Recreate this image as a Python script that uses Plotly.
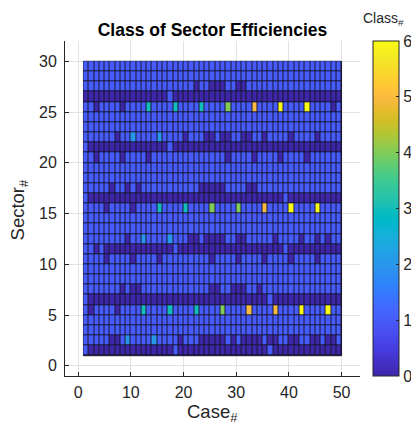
import plotly.graph_objects as go

# ---- data (rows listed from Sector 29 at top down to Sector 1), columns = Case 1..49
case_edges = list(range(1, 51))
sector_edges = list(range(1, 31))
x_ticks = [0, 10, 20, 30, 40, 50]
y_ticks = [0, 5, 10, 15, 20, 25, 30]
class_ticks = [0, 1, 2, 3, 4, 5, 6]

rows_top_down = [
    "1111111111 1111111111 1111111111 1111111111 111111111",  # 29
    "1111111111 1111111111 1111111111 1111111111 111111111",  # 28
    "1111111111 1111111111 1011000110 0111111111 111111111",  # 27
    "0000000000 0000001000 0000000000 0000000000 000000000",  # 26
    "1101111011 1131111311 1131111411 1151111611 116111101",  # 25
    "1111111111 1111111111 1111111111 1111111111 111111111",  # 24
    "1111111111 1111111111 1111111111 1111111111 111111111",  # 23
    "1111110112 1111211110 1110010011 0011011110 111101111",  # 22
    "1000000000 0000001000 0000000000 0000000000 000000000",  # 21
    "1101111011 1101111111 1111111011 1101111011 110111111",  # 20
    "1111111111 1111111111 1111111111 1111111111 111111111",  # 19
    "1111111111 1111111111 1111111111 1111111111 111111111",  # 18
    "1111101101 0111111111 1100000111 1001111111 111111111",  # 17
    "1000000000 0000000000 0000000000 0000000010 000000000",  # 16
    "1111011110 1111311113 1111411114 1111511116 111161111",  # 15
    "1111111111 1111111111 1111111111 1111111111 111111111",  # 14
    "1111111111 1111111111 1111111111 1111111111 111111111",  # 13
    "1111111101 1211112111 0010000110 0111110111 101101011",  # 12
    "1101000000 0000000100 0000000000 0000000010 000000000",  # 11
    "1111011110 1111011111 1111011110 1111011110 111101111",  # 10
    "1111111111 1111111111 1111111111 1111111111 111111111",  # 9
    "1111111111 1111111111 1111111111 1111111111 111111111",  # 8
    "1111111010 0111111111 1111001100 0110111111 111111111",  # 7
    "1000000000 0000000000 0000000000 0000010000 000000000",  # 6
    "1011110111 1311113111 1311114111 1511115111 161111611",  # 5
    "1111111111 1111111111 1111111111 1111111111 111111111",  # 4
    "1111111111 1111111111 1111111111 1111111111 111111111",  # 3
    "1111100121 1112111101 1100000101 0000100110 011001001",  # 2
    "1000000000 0000000100 0000000000 0000010000 000000000",  # 1
]

z = [[int(c) for c in r.replace(" ", "")] for r in reversed(rows_top_down)]

parula = [
    (0.2422, 0.1504, 0.6603), (0.2504, 0.1650, 0.7076), (0.2578, 0.1818, 0.7511), (0.2647, 0.1978, 0.7952),
    (0.2706, 0.2147, 0.8364), (0.2751, 0.2342, 0.8710), (0.2783, 0.2559, 0.8991), (0.2803, 0.2782, 0.9221),
    (0.2813, 0.3006, 0.9414), (0.2810, 0.3228, 0.9579), (0.2795, 0.3447, 0.9717), (0.2760, 0.3667, 0.9829),
    (0.2699, 0.3892, 0.9906), (0.2602, 0.4123, 0.9952), (0.2440, 0.4358, 0.9988), (0.2206, 0.4603, 0.9973),
    (0.1963, 0.4847, 0.9892), (0.1834, 0.5074, 0.9798), (0.1786, 0.5289, 0.9682), (0.1764, 0.5499, 0.9520),
    (0.1687, 0.5703, 0.9359), (0.1540, 0.5902, 0.9218), (0.1460, 0.6091, 0.9079), (0.1380, 0.6276, 0.8973),
    (0.1248, 0.6459, 0.8883), (0.1113, 0.6635, 0.8763), (0.0952, 0.6798, 0.8598), (0.0689, 0.6948, 0.8394),
    (0.0297, 0.7082, 0.8163), (0.0036, 0.7203, 0.7917), (0.0067, 0.7312, 0.7660), (0.0433, 0.7411, 0.7394),
    (0.0964, 0.7500, 0.7120), (0.1408, 0.7584, 0.6842), (0.1717, 0.7670, 0.6554), (0.1938, 0.7758, 0.6251),
    (0.2161, 0.7843, 0.5923), (0.2470, 0.7918, 0.5567), (0.2906, 0.7973, 0.5188), (0.3406, 0.8008, 0.4789),
    (0.3909, 0.8029, 0.4354), (0.4456, 0.8024, 0.3909), (0.5044, 0.7993, 0.3480), (0.5616, 0.7942, 0.3045),
    (0.6174, 0.7876, 0.2612), (0.6720, 0.7793, 0.2227), (0.7242, 0.7698, 0.1910), (0.7738, 0.7598, 0.1646),
    (0.8203, 0.7498, 0.1535), (0.8634, 0.7406, 0.1596), (0.9035, 0.7330, 0.1774), (0.9393, 0.7288, 0.2100),
    (0.9728, 0.7298, 0.2394), (0.9956, 0.7434, 0.2371), (0.9970, 0.7659, 0.2199), (0.9952, 0.7893, 0.2028),
    (0.9892, 0.8136, 0.1885), (0.9786, 0.8386, 0.1766), (0.9676, 0.8639, 0.1643), (0.9610, 0.8890, 0.1537),
    (0.9597, 0.9135, 0.1423), (0.9628, 0.9373, 0.1265), (0.9691, 0.9606, 0.1064), (0.9769, 0.9839, 0.0805),
]
n = len(parula)
colorscale = [[i / (n - 1), "rgb(%d,%d,%d)" % tuple(round(v * 255) for v in c)] for i, c in enumerate(parula)]

FONT = "Arial, 'Liberation Sans', Helvetica, sans-serif"
TXT = "#262626"

fig = go.Figure()
fig.add_trace(go.Heatmap(
    x=case_edges, y=sector_edges, z=z,
    zmin=0, zmax=6, colorscale=colorscale,
    xgap=1, ygap=1,
    colorbar=dict(
        x=1.045, xanchor="left", xpad=0, ypad=0,
        y=0.5, yanchor="middle", len=1, lenmode="fraction",
        thickness=26, thicknessmode="pixels",
        outlinewidth=1, outlinecolor=TXT,
        tickvals=class_ticks, ticks="inside", ticklen=3, tickcolor=TXT,
        tickfont=dict(family=FONT, size=16, color=TXT),
    ),
    hoverinfo="skip",
))

# dark cell edges (visible through the gaps)
fig.add_shape(type="rect", x0=case_edges[0], x1=case_edges[-1], y0=sector_edges[0], y1=sector_edges[-1],
              xref="x", yref="y", layer="between",
              fillcolor="rgb(22,22,48)", line=dict(color="rgb(22,22,48)", width=1))

axis_common = dict(
    showline=True, linecolor=TXT, linewidth=1, mirror=False,
    ticks="inside", ticklen=4, tickcolor=TXT,
    showgrid=True, gridcolor="#e3e3e3", gridwidth=1, zeroline=False,
    tickfont=dict(family=FONT, size=16, color=TXT),
)
fig.update_xaxes(range=[-2.5, 53.5], tickvals=x_ticks, ticklabelstandoff=2, **axis_common)
fig.update_yaxes(range=[-1, 32], tickvals=y_ticks, ticklabelstandoff=4, **axis_common)

fig.update_layout(
    width=411, height=429,
    margin=dict(l=65, r=50.5, t=40.5, b=53, pad=0, autoexpand=False),
    paper_bgcolor="white", plot_bgcolor="white",
    title=dict(text="<b>Class of Sector Efficiencies</b>", x=0.5, xref="paper", xanchor="center",
               y=1 - 30 / 429, yref="container", yanchor="middle",
               font=dict(family=FONT, size=17.5, color="black")),
    annotations=[
        dict(text="Case<sub>#</sub>", x=0.5, y=-0.11, xref="paper", yref="paper",
             xanchor="center", yanchor="middle", showarrow=False,
             font=dict(family=FONT, size=18.5, color=TXT)),
        dict(text="Sector<sub>#</sub>", x=-0.155, y=0.495, xref="paper", yref="paper",
             xanchor="center", yanchor="middle", showarrow=False, textangle=-90,
             font=dict(family=FONT, size=18.5, color=TXT)),
        dict(text="Class<sub>#</sub>", x=1.078, y=1.066, xref="paper", yref="paper",
             xanchor="center", yanchor="middle", showarrow=False,
             font=dict(family=FONT, size=14, color=TXT)),
    ],
)

fig.write_html("out.html")
